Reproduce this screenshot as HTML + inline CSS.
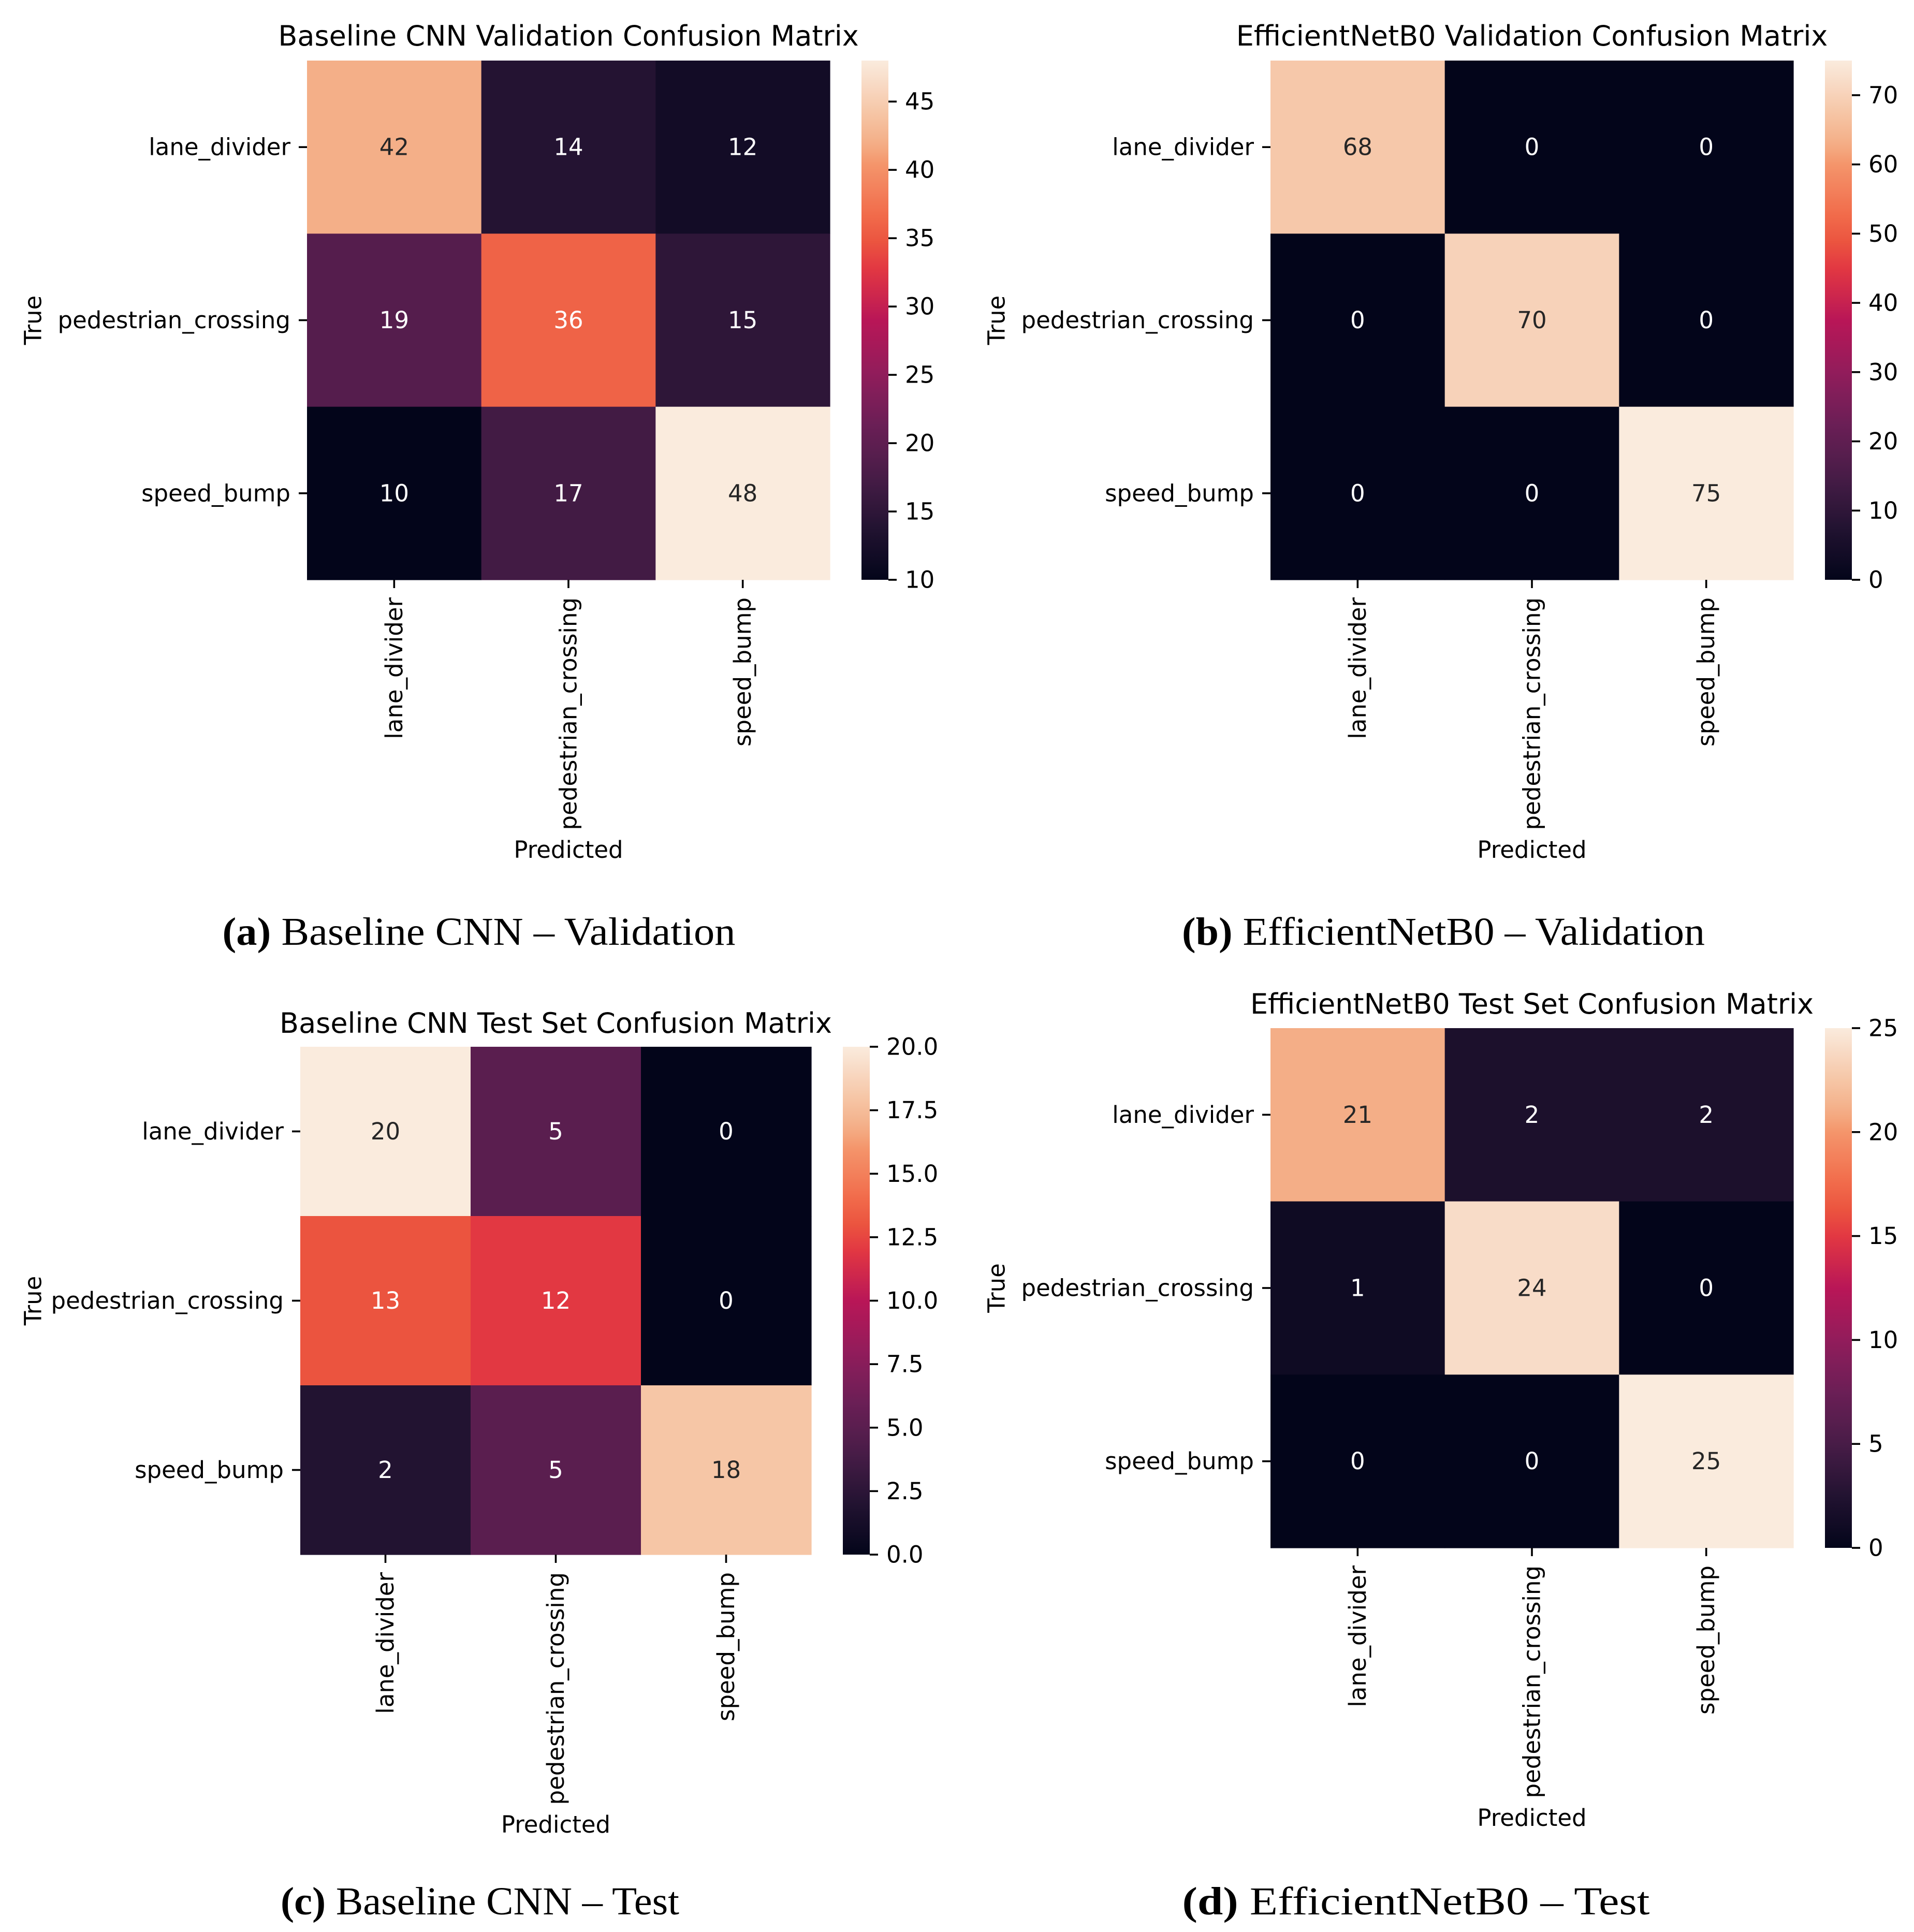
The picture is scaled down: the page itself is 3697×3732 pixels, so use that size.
<!DOCTYPE html>
<html><head><meta charset="utf-8">
<style>
html,body{margin:0;padding:0;background:#fff;}
svg{display:block;}
</style></head>
<body>
<svg id="fig" xmlns="http://www.w3.org/2000/svg" width="3697" height="3732" viewBox="0 0 3697 3732">
<rect width="3697" height="3732" fill="#fff"/>
</svg>
<script>
const classes = ["lane_divider","pedestrian_crossing","speed_bump"];
const valuesA = [[42,14,12],[19,36,15],[10,17,48]];
const valuesB = [[68,0,0],[0,70,0],[0,0,75]];
const valuesC = [[20,5,0],[13,12,0],[2,5,18]];
const valuesD = [[21,2,2],[1,24,0],[0,0,25]];
const ticksA = [10,15,20,25,30,35,40,45];
const ticksB = [0,10,20,30,40,50,60,70];
const ticksC = ["0.0","2.5","5.0","7.5","10.0","12.5","15.0","17.5","20.0"];
const ticksD = [0,5,10,15,20,25];
const titles = ["Baseline CNN Validation Confusion Matrix","EfficientNetB0 Validation Confusion Matrix","Baseline CNN Test Set Confusion Matrix","EfficientNetB0 Test Set Confusion Matrix"];
const captionLetters = ["(a)","(b)","(c)","(d)"];
const captionTexts = ["Baseline CNN – Validation","EfficientNetB0 – Validation","Baseline CNN – Test","EfficientNetB0 – Test"];

const NS="http://www.w3.org/2000/svg";
const svg=document.getElementById('fig');
function mk(tag,attrs,parent){const e=document.createElementNS(NS,tag);for(const k in attrs)e.setAttribute(k,attrs[k]);(parent||svg).appendChild(e);return e;}

const stops=[[0,[3,5,26]],[0.1,[34,19,49]],[0.2,[72,28,71]],[0.3,[107,31,86]],[0.4,[146,28,91]],[0.5,[185,22,87]],[0.6,[226,56,66]],[0.65,[235,84,63]],[0.7,[241,106,74]],[0.8,[244,149,107]],[0.84,[244,174,135]],[0.9,[246,198,166]],[0.96,[248,220,200]],[1,[250,235,221]]];
function rocket(t){t=Math.max(0,Math.min(1,t));for(let i=1;i<stops.length;i++){if(t<=stops[i][0]){const a=stops[i-1],b=stops[i];const f=(t-a[0])/(b[0]-a[0]);const c=a[1].map((v,j)=>Math.round(v+(b[1][j]-v)*f));return `rgb(${c[0]},${c[1]},${c[2]})`;}}return 'rgb(250,235,221)';}
function lum(t){const s=rocket(t).match(/\d+/g).map(Number);return 0.299*s[0]+0.587*s[1]+0.114*s[2];}

const panels=[
 {vals:valuesA,ticks:ticksA,vmin:10,vmax:48,L:593,R:1603,T:117,B:1120,titleY:88,ylabX:64,capX:925,capY:1825,capW:991},
 {vals:valuesB,ticks:ticksB,vmin:0,vmax:75,L:2454,R:3464,T:117,B:1120,titleY:88,ylabX:1925,capX:2788,capY:1825,capW:1010},
 {vals:valuesC,ticks:ticksC,vmin:0,vmax:20,L:580,R:1567,T:2022,B:3003,titleY:1995,ylabX:64,capX:927,capY:3698,capW:770},
 {vals:valuesD,ticks:ticksD,vmin:0,vmax:25,L:2454,R:3464,T:1986,B:2990,titleY:1958,ylabX:1925,capX:2735,capY:3698,capW:903}
];
const FONT='"DejaVu Sans","Liberation Sans",sans-serif';
const FS=45;

panels.forEach((p,pi)=>{
  const g=mk('g',{});
  
  
  const n=classes.length;
  const cw=(p.R-p.L)/n, ch=(p.B-p.T)/n;
  const xScale=i=>p.L+i*cw, yScale=i=>p.T+i*ch;
  const cScale=v=>(v-p.vmin)/(p.vmax-p.vmin);
  const t=mk('text',{x:(p.L+p.R)/2,y:p.titleY,'text-anchor':'middle','font-family':FONT,'font-size':54,fill:'#000'},g);
  t.textContent=titles[pi];
  
  
  p.vals.forEach((row,r)=>row.forEach((v,c)=>{
    const tt=cScale(v);
    const rc=mk('rect',{x:xScale(c),y:yScale(r),width:cw+0.6,height:ch+0.6,fill:rocket(tt)},g);
    
    
    const tx=mk('text',{x:xScale(c)+cw/2,y:yScale(r)+ch/2,'text-anchor':'middle','dominant-baseline':'central','font-family':FONT,'font-size':45,fill:lum(tt)>140?'#262626':'#ffffff'},g);
    tx.textContent=String(v);
    
    
  }));
  classes.forEach((cl,i)=>{
    const y=yScale(i)+ch/2;
    mk('line',{x1:p.L-16,x2:p.L,y1:y,y2:y,stroke:'#000','stroke-width':3.6},g);
    const lb=mk('text',{x:p.L-32,y:y,'text-anchor':'end','dominant-baseline':'central','font-family':FONT,'font-size':FS,fill:'#000'},g);
    lb.textContent=cl;
    
    
    const x=xScale(i)+cw/2;
    mk('line',{x1:x,x2:x,y1:p.B,y2:p.B+16,stroke:'#000','stroke-width':3.6},g);
    const xl=mk('text',{x:0,y:0,'text-anchor':'end','dominant-baseline':'central','font-family':FONT,'font-size':FS,fill:'#000',transform:`translate(${x},${p.B+34}) rotate(-90)`},g);
    xl.textContent=cl;
    
    
  });
  const xlab=mk('text',{x:(p.L+p.R)/2,y:p.B+537,'text-anchor':'middle','font-family':FONT,'font-size':FS,fill:'#000'},g);
  xlab.textContent='Predicted';
  
  
  const ylab=mk('text',{x:0,y:0,'text-anchor':'middle','dominant-baseline':'central','font-family':FONT,'font-size':FS,fill:'#000',transform:`translate(${p.ylabX},${(p.T+p.B)/2}) rotate(-90)`},g);
  ylab.textContent='True';
  
  
  const cbL=p.R+61, cbW=52;
  const gid='grad'+pi;
  const defs=mk('defs',{},g);
  const lg=mk('linearGradient',{id:gid,x1:0,y1:1,x2:0,y2:0},defs);
  for(let k=0;k<=40;k++){mk('stop',{offset:(k/40),'stop-color':rocket(k/40)},lg);}
  const cb=mk('rect',{x:cbL,y:p.T,width:cbW,height:p.B-p.T,fill:`url(#${gid})`},g);
  
  
  const cbY=v=>p.B-(v-p.vmin)/(p.vmax-p.vmin)*(p.B-p.T);
  p.ticks.forEach(tk=>{
    const v=parseFloat(tk);
    const y=cbY(v);
    mk('line',{x1:cbL+cbW,x2:cbL+cbW+16,y1:y,y2:y,stroke:'#000','stroke-width':3.6},g);
    const tl=mk('text',{x:cbL+cbW+32,y:y,'dominant-baseline':'central','font-family':FONT,'font-size':FS,fill:'#000'},g);
    tl.textContent=String(tk);
    
    
  });
  const cap=mk('text',{x:p.capX,y:p.capY,'text-anchor':'middle','font-family':'"Liberation Serif",serif','font-size':76,fill:'#000',textLength:p.capW,lengthAdjust:'spacingAndGlyphs'},g);
  const b=mk('tspan',{'font-weight':'bold'},cap);b.textContent=captionLetters[pi];
  const rest=mk('tspan',{},cap);rest.textContent=' '+captionTexts[pi];
  
  
});
</script>
</body></html>
